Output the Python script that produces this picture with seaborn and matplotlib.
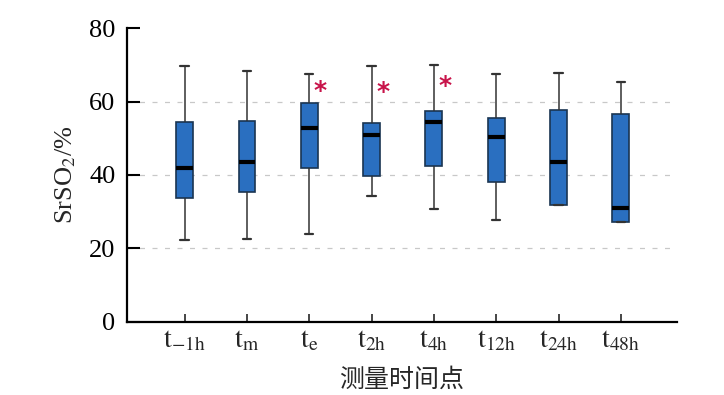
import numpy as np
import pandas as pd
import matplotlib
matplotlib.use("Agg")
import matplotlib.pyplot as plt
import seaborn as sns

# ---- data ----
categories = ["t-1h", "tm", "te", "t2h", "t4h", "t12h", "t24h", "t48h"]
tick_labels = [r"$\mathrm{t}_{\mathrm{-1h}}$", r"$\mathrm{t}_{\mathrm{m}}$", r"$\mathrm{t}_{\mathrm{e}}$",
               r"$\mathrm{t}_{\mathrm{2h}}$", r"$\mathrm{t}_{\mathrm{4h}}$", r"$\mathrm{t}_{\mathrm{12h}}$",
               r"$\mathrm{t}_{\mathrm{24h}}$", r"$\mathrm{t}_{\mathrm{48h}}$"]
whisker_low = [22.3, 22.7, 23.9, 34.4, 30.8, 27.8, 31.7, 27.2]
q1 = [33.8, 35.5, 42.0, 39.8, 42.4, 38.0, 31.7, 27.2]
median = [41.8, 43.4, 52.8, 51.0, 54.5, 50.4, 43.5, 31.1]
q3 = [54.5, 54.7, 59.6, 54.2, 57.5, 55.4, 57.6, 56.5]
whisker_high = [69.6, 68.2, 67.5, 69.7, 69.9, 67.4, 67.7, 65.3]
significant = ["te", "t2h", "t4h"]
star_y = [64.7, 64.5, 65.9]

rows = []
for c, a, b, m, d, e in zip(categories, whisker_low, q1, median, q3, whisker_high):
    for v in (a, b, m, d, e):
        rows.append({"time": c, "value": v})
df = pd.DataFrame(rows)

sns.set_theme(style="white")
plt.rcParams["font.family"] = ["Liberation Serif", "DejaVu Serif"]
plt.rcParams["mathtext.fontset"] = "stix"

fig = plt.figure(figsize=(7.24, 3.95), dpi=100)
ax = fig.add_axes([0.175, 0.185, 0.76, 0.744])

for y in (20, 40, 60):
    ax.axhline(y, color="#c8c8c8", lw=0.9, ls=(0, (4, 6)), zorder=0)

sns.boxplot(data=df, x="time", y="value", order=categories, ax=ax,
            whis=(0, 100), width=0.27, color="#2a6fc0", saturation=1,
            linecolor="#1a3552", linewidth=1.2, showfliers=False,
            medianprops={"color": "black", "linewidth": 3.0},
            whiskerprops={"color": "#333333", "linewidth": 1.1},
            capprops={"color": "#333333", "linewidth": 1.6})

for c, sy in zip(significant, star_y):
    xi = categories.index(c) + 0.18
    ax.text(xi, sy - 1.8, "*", color="#c8144a", fontsize=18, fontweight="bold",
            ha="center", va="center", family="DejaVu Sans")

ax.set_xlim(-0.93, 7.9)
ax.set_ylim(0, 80)
ax.set_yticks([0, 20, 40, 60, 80])
ax.set_xticks(range(len(categories)))
ax.set_xticklabels(tick_labels)
ax.tick_params(axis="y", direction="in", length=9, width=1.5, labelsize=19, pad=8, left=True, colors="black")
ax.tick_params(axis="x", direction="in", length=6, width=1.2, labelsize=20, pad=5, bottom=True)
for s in ("top", "right"):
    ax.spines[s].set_visible(False)
for s in ("left", "bottom"):
    ax.spines[s].set_color("black")
    ax.spines[s].set_linewidth(1.6)

ax.set_ylabel(r"SrSO$_2$/%", fontsize=19, labelpad=8)
ax.set_xlabel("测量时间点", fontsize=18, family=["Noto Sans CJK SC", "DejaVu Sans"], labelpad=9)

fig.savefig("out.png", dpi=100)
